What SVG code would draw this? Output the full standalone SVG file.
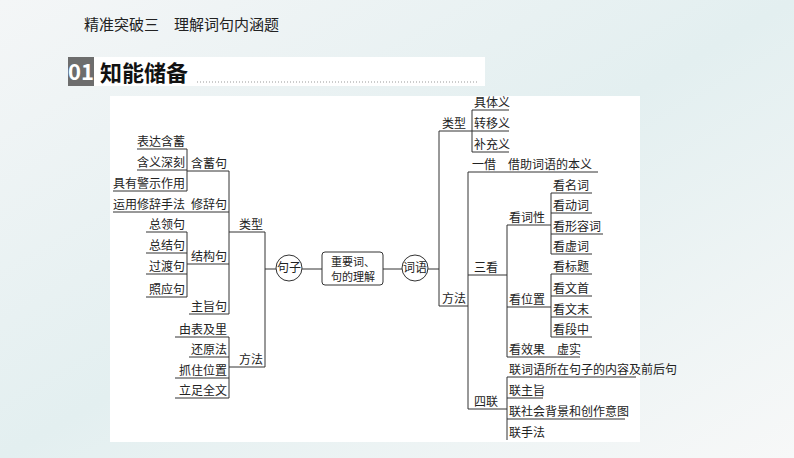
<svg xmlns="http://www.w3.org/2000/svg" width="794" height="458" viewBox="0 0 794 458">
<style>
text{font-family:"Noto Sans CJK SC","Liberation Serif",serif;font-size:12px;fill:#222}
.l{stroke:#333;stroke-width:1;fill:none}
.e{text-anchor:end}
.m{text-anchor:middle}
</style>
<defs><linearGradient id="bg" x1="0" y1="0" x2="1" y2="1"><stop offset="0" stop-color="#f4f6f7"/><stop offset="0.5" stop-color="#e3eff0"/><stop offset="1" stop-color="#f7f8f8"/></linearGradient></defs>
<rect width="794" height="458" fill="url(#bg)"/>
<text x="84" y="30" style="font-size:15px">精准突破三　理解词句内涵题</text>
<rect x="92" y="57" width="393" height="29" fill="#fff"/>
<rect x="68" y="57" width="26" height="29" fill="#6d6d6d"/>
<text x="81" y="80" class="m" style="font-size:22px;fill:#fff;font-weight:bold">01</text>
<text x="100" y="81" style="font-size:22px;font-weight:bold;fill:#111">知能储备</text>
<line x1="197" y1="82" x2="478" y2="82" stroke="#999" stroke-dasharray="1 2"/>
<rect x="110" y="96" width="530" height="346" fill="#fff"/>
<g id="connectors" class="l">
<path d="M137 149H187M137 170H187M113 191H187M187 149V191"/>
<path d="M187 171H229M113 212H229"/>
<path d="M146 232H187M146 253H187M146 274H187M146 297H187M187 232V297M187 264H229M189 314H229"/>
<path d="M229 171V314M229 232H265"/>
<path d="M175 337H229M189 357H229M175 378H229M175 398H229M229 337V398M229 367H265"/>
<path d="M265 232V367M265 269H276M302 269H322M383 269H402M428 269H439"/>
<path d="M439 131V306M439 131H472M439 306H468"/>
<path d="M472 110H509M472 131H509M472 152H509M472 110V152"/>
<path d="M468 172V409M468 172H598M468 275H507M468 409H507"/>
<path d="M507 225V357M507 225H551M507 307H551M507 357H580"/>
<path d="M551 193V254M551 193H592M551 213H592M551 234H603M551 254H592"/>
<path d="M551 274V337M551 274H592M551 296H592M551 317H592M551 337H592"/>
<path d="M507 377V440M507 377H636M507 398H543M507 419H625"/>
</g>
<g id="left">
<text x="185" y="146" class="e">表达含蓄</text>
<text x="185" y="167" class="e">含义深刻</text>
<text x="185" y="188" class="e">具有警示作用</text>
<text x="227" y="168" class="e">含蓄句</text>
<text x="185" y="209" class="e">运用修辞手法</text>
<text x="227" y="209" class="e">修辞句</text>
<text x="185" y="229" class="e">总领句</text>
<text x="185" y="250" class="e">总结句</text>
<text x="185" y="271" class="e">过渡句</text>
<text x="185" y="294" class="e">照应句</text>
<text x="227" y="261" class="e">结构句</text>
<text x="227" y="311" class="e">主旨句</text>
<text x="263" y="229" class="e">类型</text>
<text x="227" y="334" class="e">由表及里</text>
<text x="227" y="354" class="e">还原法</text>
<text x="227" y="375" class="e">抓住位置</text>
<text x="227" y="395" class="e">立足全文</text>
<text x="263" y="364" class="e">方法</text>
</g>
<g id="n-juzi"><circle cx="289" cy="268" r="13" class="l"/><text x="289" y="272" class="m">句子</text></g>
<g id="n-center"><rect x="322" y="252" width="61" height="33" rx="3" class="l"/><text x="353" y="266" class="m" style="font-size:11px">重要词、</text><text x="353" y="281" class="m" style="font-size:11px">句的理解</text></g>
<g id="n-ciyu"><circle cx="415" cy="268" r="13" class="l"/><text x="415" y="272" class="m">词语</text></g>
<g id="right">
<text x="442" y="128">类型</text>
<text x="474" y="107">具体义</text>
<text x="474" y="128">转移义</text>
<text x="474" y="149">补充义</text>
<text x="442" y="303">方法</text>
<text x="472" y="169" xml:space="preserve">一借　借助词语的本义</text>
<text x="474" y="272">三看</text>
<text x="509" y="222">看词性</text>
<text x="553" y="190">看名词</text>
<text x="553" y="210">看动词</text>
<text x="553" y="231">看形容词</text>
<text x="553" y="251">看虚词</text>
<text x="509" y="304">看位置</text>
<text x="553" y="271">看标题</text>
<text x="553" y="293">看文首</text>
<text x="553" y="314">看文末</text>
<text x="553" y="334">看段中</text>
<text x="509" y="354" xml:space="preserve">看效果　虚实</text>
<text x="474" y="406">四联</text>
<text x="509" y="374">联词语所在句子的内容及前后句</text>
<text x="509" y="395">联主旨</text>
<text x="509" y="416">联社会背景和创作意图</text>
<text x="509" y="437">联手法</text>
</g>
</svg>
